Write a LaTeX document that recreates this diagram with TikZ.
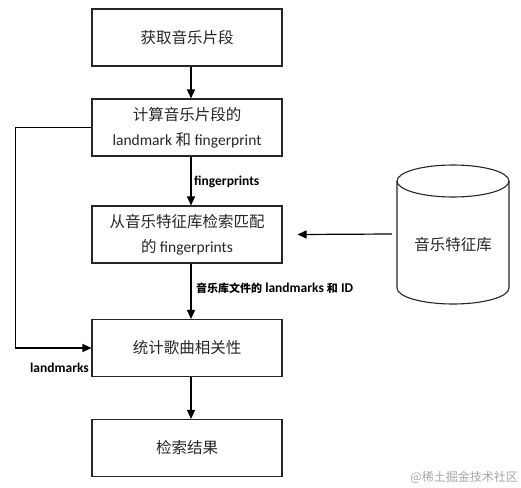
\documentclass[tikz,border=0pt]{standalone}
\usepackage{fontspec}
\setmainfont{Carlito}
\newfontfamily\cjk{Noto Sans CJK SC}
\usetikzlibrary{arrows.meta}
\begin{document}
\begin{tikzpicture}[x=1pt,y=-1pt,
  box/.style={draw=black!85, line width=1.1pt, minimum width=190pt, minimum height=57pt, inner sep=0pt, align=center, text=black!85, font=\fontsize{15.5}{25}\selectfont\cjk},
  arr/.style={draw=black, line width=1.2pt, -{Triangle[length=9pt,width=8pt]}},
  lbl/.style={font=\fontsize{13.5}{15}\selectfont\bfseries, inner sep=0pt}]
\useasboundingbox (0,0) rectangle (521,487);
\node[box] (b1) at (187,37.5) {获取音乐片段};
\node[box] (b2) at (187,127.5) {计算音乐片段的\\{\fontspec{Carlito}landmark} 和 {\fontspec{Carlito}fingerprint}};
\node[box] (b3) at (187,234.5) {从音乐特征库检索匹配\\的 {\fontspec{Carlito}fingerprints}};
\node[box] (b4) at (187,348) {统计歌曲相关性};
\node[box] (b5) at (187,448) {检索结果};
% database cylinder
\draw[black!85, line width=1.1pt] (453,181) ellipse [x radius=56, y radius=16];
\draw[black!85, line width=1.1pt] (397,181) -- (397,288) arc[start angle=180, end angle=0, x radius=56, y radius=16] -- (509,181);
\node[font=\fontsize{15.5}{18}\selectfont\cjk, text=black!85] (db) at (453,245) {音乐特征库};
\coordinate (dbl) at (392,234);
% connectors
\draw[arr] ([xshift=4pt]b1.south) -- ([xshift=4pt]b2.north);
\draw[arr] ([xshift=4pt]b2.south) -- ([xshift=4pt]b3.north);
\draw[arr] ([xshift=4pt]b3.south) -- ([xshift=4pt]b4.north);
\draw[arr] ([xshift=4pt]b4.south) -- ([xshift=4pt]b5.north);
\draw[arr] (dbl) -- ([xshift=15pt]b3.east);
\draw[arr] (b2.west) -- ++(-76,0) |- (b4.west);
% labels
\node[lbl, anchor=west] (l1) at (194,182) {fingerprints};
\node[lbl, anchor=west] (l2) at (196,288) {{\fontsize{11}{15}\selectfont\cjk 音乐库文件的} landmarks {\fontsize{11}{15}\selectfont\cjk 和} ID};
\node[lbl, anchor=east] (l3) at (89,368) {landmarks};
\node[font=\fontsize{12}{14}\selectfont\cjk, text=black!35, anchor=east, inner sep=0pt] (wm) at (518,477) {@稀土掘金技术社区};
\end{tikzpicture}
\end{document}
